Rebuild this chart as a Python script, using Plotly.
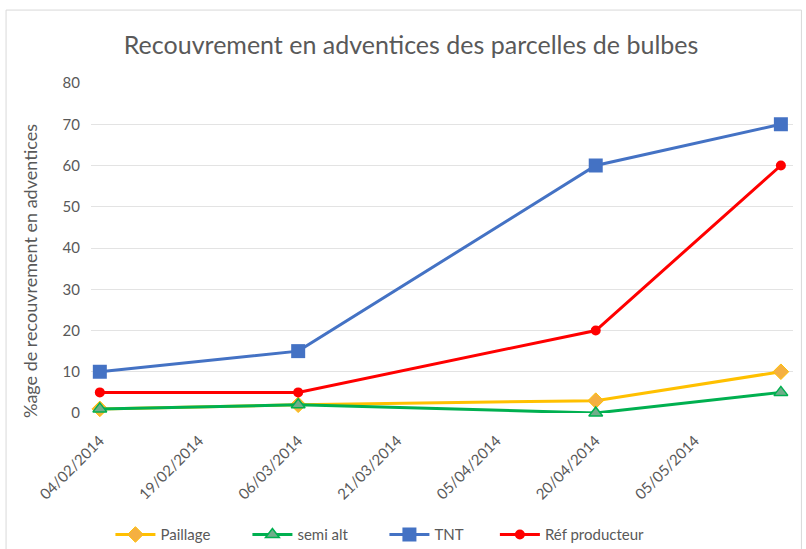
import plotly.graph_objects as go

dates = ["2014-02-04", "2014-03-06", "2014-04-20", "2014-05-18"]
paillage = [1, 2, 3, 10]
semi_alt = [1, 2, 0, 5]
tnt = [10, 15, 60, 70]
ref_prod = [5, 5, 20, 60]

tick_vals = ["2014-02-04", "2014-02-19", "2014-03-06", "2014-03-21",
             "2014-04-05", "2014-04-20", "2014-05-05"]
tick_text = ["04/02/2014", "19/02/2014", "06/03/2014", "21/03/2014",
             "05/04/2014", "20/04/2014", "05/05/2014"]

FONT = "Lato, 'Open Sans', sans-serif"
GRAY = "#595959"

fig = go.Figure()
fig.add_trace(go.Scatter(x=dates, y=paillage, name="Paillage", mode="lines+markers",
                         line=dict(color="#FFC000", width=3),
                         marker=dict(symbol="diamond", size=12, color="#F5B041",
                                     line=dict(color="#FFC000", width=1))))
fig.add_trace(go.Scatter(x=dates, y=semi_alt, name="semi alt", mode="lines+markers",
                         line=dict(color="#00B050", width=3),
                         marker=dict(symbol="triangle-up", size=12, color="#70AD8A",
                                     line=dict(color="#00B050", width=1.5))))
fig.add_trace(go.Scatter(x=dates, y=tnt, name="TNT", mode="lines+markers",
                         line=dict(color="#4472C4", width=3),
                         marker=dict(symbol="square", size=14, color="#4472C4")))
fig.add_trace(go.Scatter(x=dates, y=ref_prod, name="Réf producteur", mode="lines+markers",
                         line=dict(color="#FF0000", width=3),
                         marker=dict(symbol="circle", size=10, color="#FF0000"),
                         legend="legend2"))

fig.update_layout(
    width=806, height=549,
    paper_bgcolor="white", plot_bgcolor="white",
    margin=dict(l=91, r=13, t=83, b=136, autoexpand=False),
    font=dict(family=FONT, color=GRAY, size=14),
    title=dict(text="Recouvrement en adventices des parcelles de bulbes",
               x=0.51, xanchor="center", y=0.918, yanchor="middle",
               font=dict(size=25, color=GRAY, family=FONT)),
    xaxis=dict(type="date", range=["2014-02-02 16:00", "2014-05-19 20:00"],
               tickvals=tick_vals, ticktext=tick_text, tickangle=-45,
               ticks="outside", ticklen=12, tickcolor="rgba(0,0,0,0)",
               showgrid=False, zeroline=False, showline=False, automargin=False,
               tickfont=dict(size=15, color=GRAY)),
    yaxis=dict(range=[0, 80], dtick=10, showgrid=True, gridcolor="#E3E3E3",
               gridwidth=1, zeroline=False, showline=False, automargin=False,
               ticks="outside", ticklen=7, tickcolor="rgba(0,0,0,0)",
               tickfont=dict(size=15, color=GRAY)),
    legend=dict(orientation="h", xref="container", yref="container",
                x=0.137, xanchor="left", y=0.026, yanchor="middle",
                font=dict(size=15, color=GRAY), entrywidth=82, itemwidth=40),
    legend2=dict(orientation="h", xref="container", yref="container",
                 x=0.614, xanchor="left", y=0.026, yanchor="middle",
                 font=dict(size=15, color=GRAY), itemwidth=40),
    annotations=[dict(text="%age de recouvrement en adventices", textangle=-90,
                      xref="paper", yref="paper", x=-0.087, y=0.43,
                      xanchor="center", yanchor="middle", showarrow=False,
                      font=dict(size=18, color=GRAY, family=FONT))],
    shapes=[dict(type="rect", xref="paper", yref="paper",
                 x0=-0.121, x1=1.012, y0=-0.42, y1=1.221,
                 line=dict(color="#D9D9D9", width=1), fillcolor="rgba(0,0,0,0)", layer="below")],
)
for tr in fig.data:
    tr.cliponaxis = False

fig.write_html("out.html", config={"displayModeBar": False},
               post_script="document.body.style.margin='0';")
